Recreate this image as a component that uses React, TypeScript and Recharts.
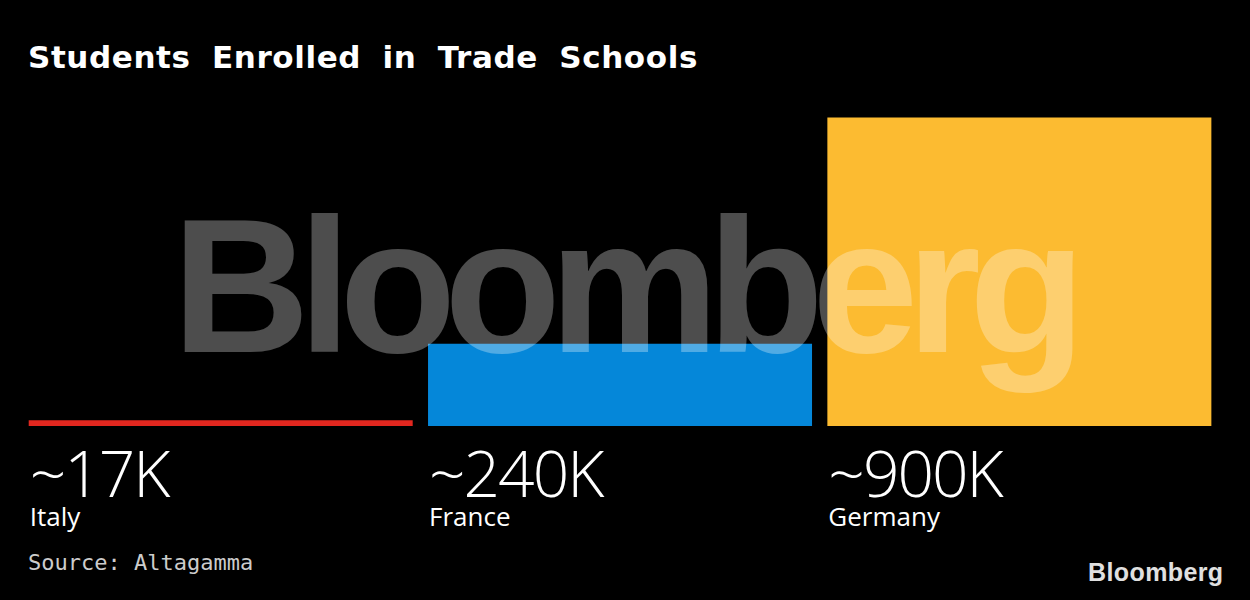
import React from "react";
import { BarChart, Bar, XAxis, YAxis, Cell } from "recharts";

// Students enrolled in trade schools, thousands
const countries = ["Italy", "France", "Germany"];
const students = [17, 240, 900];
const valueLabels = ["~17K", "~240K", "~900K"];
const barColors = ["#e2271f", "#0587d9", "#fcbb31"];

const chartData = countries.map((c, i) => ({
  country: c,
  students: students[i],
}));

const W = 1250;
const H = 600;

const renderLabel = (props: any) => {
  const { x, y, height, index } = props;
  const base = Number(y) + Number(height);
  return (
    <g key={`lbl-${index}`}>
      <text
        x={Number(x) + 1}
        y={base + 71}
        fill="#ffffff"
        fontFamily="'Open Sans', sans-serif"
        fontWeight={300}
        fontSize={64}
        letterSpacing={-2}
      >
        {valueLabels[index]}
      </text>
      <text
        x={Number(x) + 1}
        y={base + 100}
        fill="#ffffff"
        fontFamily="'Open Sans', sans-serif"
        fontSize={26}
      >
        {countries[index]}
      </text>
    </g>
  );
};

export default function App() {
  return (
    <div
      style={{
        position: "absolute",
        left: 0,
        top: 0,
        width: W,
        height: H,
        background: "#000000",
        overflow: "hidden",
      }}
    >
      <div
        style={{
          position: "absolute",
          left: 28,
          top: 39,
          color: "#ffffff",
          fontFamily: "'DejaVu Sans', sans-serif",
          fontWeight: 700,
          fontSize: 31,
          letterSpacing: 0.6,
          wordSpacing: 10,
          whiteSpace: "nowrap",
        }}
      >
        Students Enrolled in Trade Schools
      </div>

      <BarChart
        width={W}
        height={H}
        data={chartData}
        margin={{ top: 117.5, right: 31, bottom: 174, left: 21 }}
        barCategoryGap={7.7}
      >
        <XAxis dataKey="country" hide />
        <YAxis hide domain={[0, 900]} />
        <Bar
          dataKey="students"
          isAnimationActive={false}
          label={renderLabel}
        >
          {chartData.map((d, i) => (
            <Cell key={d.country} fill={barColors[i]} />
          ))}
        </Bar>
      </BarChart>

      {/* watermark */}
      <div
        style={{
          position: "absolute",
          left: 172,
          top: 176,
          color: "rgba(255,255,255,0.3)",
          fontFamily: "'Liberation Sans', Arial, sans-serif",
          fontWeight: 700,
          fontSize: 191,
          letterSpacing: -11.8,
          lineHeight: "220px",
          whiteSpace: "nowrap",
          pointerEvents: "none",
        }}
      >
        Bloomberg
      </div>

      <div
        style={{
          position: "absolute",
          left: 28,
          top: 550,
          color: "#cccccc",
          fontFamily: "'DejaVu Sans Mono', monospace",
          fontSize: 22,
          whiteSpace: "nowrap",
        }}
      >
        Source: Altagamma
      </div>

      <div
        style={{
          position: "absolute",
          left: 1088,
          top: 558,
          color: "#e0e0e0",
          fontFamily: "'Liberation Sans', Arial, sans-serif",
          fontWeight: 700,
          fontSize: 25,
          letterSpacing: 0.4,
          whiteSpace: "nowrap",
        }}
      >
        Bloomberg
      </div>
    </div>
  );
}
